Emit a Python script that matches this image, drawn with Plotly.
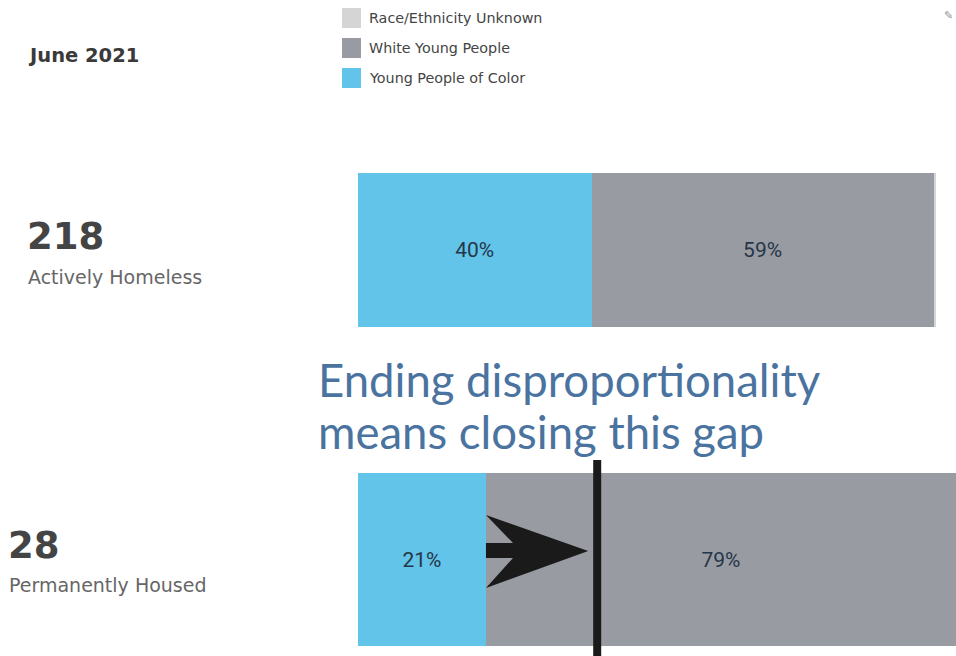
import plotly.graph_objects as go

# ---- data ----
period = "June 2021"
categories = ["Actively Homeless", "Permanently Housed"]
totals = [218, 28]
poc_pct = [40.4, 21.4]          # Young People of Color
white_pct = [59.2, 78.6]        # White Young People
unknown_pct = [0.4, 0.0]        # Race/Ethnicity Unknown
series_names = ["Young People of Color", "White Young People", "Race/Ethnicity Unknown"]
target_share = 40               # gap target (top bar's share of people of color)

# ---- styles ----
C_POC = "#62c4e8"
C_WHITE = "#989ba2"
C_UNK = "#d5d5d5"
W, H = 956, 656
FONT_L = "DejaVu Sans"

def py(p):
    return 1 - p / H

fig = go.Figure()
axes = [("x", "y"), ("x2", "y2")]
for i, (xa, ya) in enumerate(axes):
    for name, vals, col in zip(series_names, [poc_pct, white_pct, unknown_pct], [C_POC, C_WHITE, C_UNK]):
        v = vals[i]
        if v <= 0:
            continue
        show_txt = name != "Race/Ethnicity Unknown"
        fig.add_trace(go.Bar(
            x=[v], y=[0], orientation="h", name=name, xaxis=xa, yaxis=ya,
            marker=dict(color=col, line=dict(width=0)), width=1,
            text=[f"{round(v)}%" if show_txt else ""],
            textposition="inside", insidetextanchor="middle",
            textfont=dict(family="Liberation Sans Narrow, Roboto, sans-serif", size=21, color="#26364a"),
            showlegend=False, hoverinfo="skip",
        ))

fig.update_layout(
    width=W, height=H, margin=dict(l=0, r=0, t=0, b=0),
    barmode="stack", paper_bgcolor="white", plot_bgcolor="white",
    xaxis=dict(domain=[358 / W, 936 / W], range=[0, 100], visible=False, fixedrange=True),
    yaxis=dict(domain=[py(327), py(173)], range=[-0.5, 0.5], visible=False),
    xaxis2=dict(domain=[358 / W, 1.0], range=[0, 100 * (W - 358) / 598], visible=False),
    yaxis2=dict(domain=[py(646), py(473)], range=[-0.5, 0.5], visible=False),
    uniformtext=dict(mode="show", minsize=8),
)

ann = []
# left texts
ann.append(dict(text="<b>" + period + "</b>", x=26 / W, y=py(55), xref="paper", yref="paper",
                xanchor="left", yanchor="middle", showarrow=False,
                font=dict(family=FONT_L, size=19.5, color="#3a3a3a")))
left_pos = [(25, 236, 277), (6, 545, 585)]
for (lx, ny, ly), tot, cat in zip(left_pos, totals, categories):
    ann.append(dict(text=f"<b>{tot}</b>", x=lx / W, y=py(ny), xref="paper", yref="paper",
                    xanchor="left", yanchor="middle", showarrow=False,
                    font=dict(family=FONT_L, size=37, color="#444444")))
    ann.append(dict(text=cat, x=(lx + 1) / W, y=py(ly), xref="paper", yref="paper",
                    xanchor="left", yanchor="middle", showarrow=False,
                    font=dict(family=FONT_L, size=19, color="#666666")))

# legend (manual)
shapes = []
leg_items = [("Race/Ethnicity Unknown", C_UNK, 18), ("White Young People", C_WHITE, 48),
             ("Young People of Color", C_POC, 78)]
for txt, col, cy in leg_items:
    shapes.append(dict(type="rect", xref="paper", yref="paper", x0=342 / W, x1=361 / W,
                       y0=py(cy + 10), y1=py(cy - 10), fillcolor=col, line=dict(width=0)))
    ann.append(dict(text=txt, x=367 / W, y=py(cy), xref="paper", yref="paper",
                    xanchor="left", yanchor="middle", showarrow=False,
                    font=dict(family=FONT_L, size=14.3, color="#444444")))

# small pen icon
ann.append(dict(text="✎", x=955 / W, y=py(14), xref="paper", yref="paper", xanchor="right",
                yanchor="middle", showarrow=False, font=dict(size=11, color="#999999")))

# callout text
for line, cyl in [("Ending disproportionality", 379), ("means closing this gap", 431)]:
    ann.append(dict(text=line, x=316 / W, y=py(cyl),
                    xref="paper", yref="paper", xanchor="left", yanchor="middle", align="left",
                    showarrow=False,
                    font=dict(family="Lato", size=45.5, color="#4a73a0")))

# arrow (stealth shape) from bottom POC share to target
x_start = poc_pct[1]
pxu = 598 / 100.0
x_tip = target_share - 9 / pxu
x_notch = x_start + 27 / pxu
cy = 551
p = lambda y: py(y)
path = (f"M {x_start},{p(543)} L {x_notch},{p(543)} L {x_start},{p(515)} "
        f"L {x_tip},{p(cy)} L {x_start},{p(588)} L {x_notch},{p(558)} L {x_start},{p(558)} Z")
shapes.append(dict(type="path", xref="x2", yref="paper", path=path,
                   fillcolor="#1a1a1a", line=dict(width=0)))
# vertical target line
shapes.append(dict(type="line", xref="x2", yref="paper", x0=target_share, x1=target_share,
                   y0=0, y1=py(460), line=dict(color="#1a1a1a", width=8)))

fig.update_layout(annotations=ann, shapes=shapes)
fig.write_html("out.html", config={"displayModeBar": False},
               post_script="document.body.style.margin='0';document.body.style.overflow='hidden';")
